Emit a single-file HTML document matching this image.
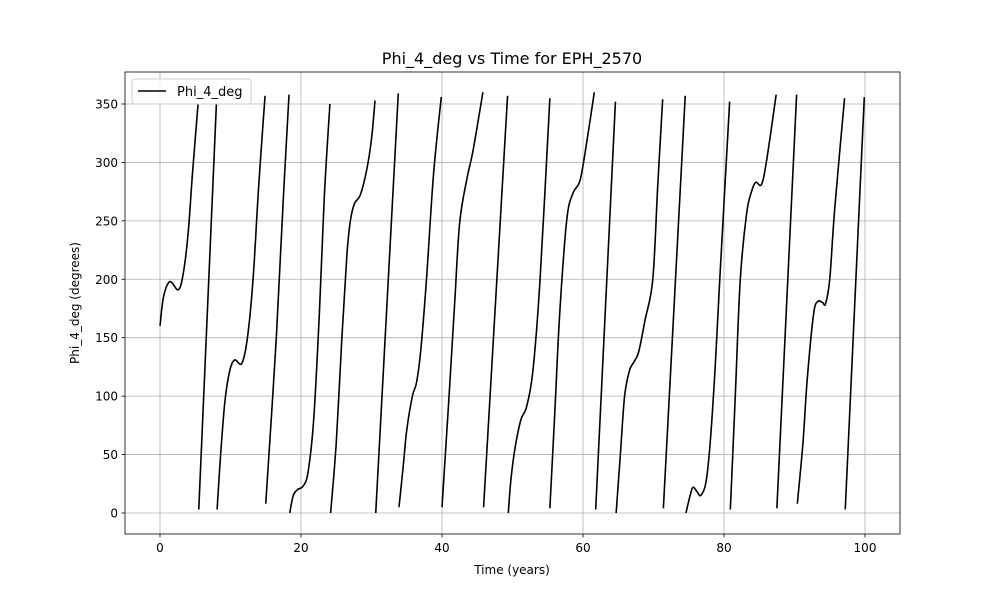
<!DOCTYPE html>
<html><head><meta charset="utf-8"><style>
body{margin:0;background:#fff;font-family:"Liberation Sans","DejaVu Sans",sans-serif}
svg text{font-family:"DejaVu Sans","Liberation Sans",sans-serif}
</style></head><body>
<svg id="c" width="1000" height="600" viewBox="0 0 1000 600">
<rect width="1000" height="600" fill="#fff"/>
<g id="grid"></g>
<g id="lines"></g>
<rect x="125" y="72" width="775" height="462" fill="none" stroke="#000" stroke-width="0.8"/>
<g id="ticks"></g>
<text x="512" y="64" text-anchor="middle" font-size="16">Phi_4_deg vs Time for EPH_2570</text>
<text x="512" y="574" text-anchor="middle" font-size="12">Time (years)</text>
<text transform="translate(79,303) rotate(-90)" text-anchor="middle" font-size="12">Phi_4_deg (degrees)</text>
<g>
<rect x="132" y="79" width="119" height="25" rx="3" fill="#fff" fill-opacity="0.8" stroke="#ccc"/>
<line x1="138" y1="91" x2="166" y2="91" stroke="#000" stroke-width="1.6"/>
<text x="177" y="96" font-size="13">Phi_4_deg</text>
</g>
</svg>
<script>
const xTicks=[0,20,40,60,80,100];
const yTicks=[0,50,100,150,200,250,300,350];
const segments=[
[[0,160],[0.5,185],[1.4,198],[2.6,191],[3.3,205],[4,240],[4.6,290],[5.4,350]],
[[5.5,3],[8.0,350]],
[[8.1,3],[8.6,50],[9.2,95],[9.9,122],[10.6,131],[11.6,128],[12.4,150],[13.2,200],[14,280],[14.9,357]],
[[15,8],[16.5,150],[17.5,270],[18.3,358]],
[[18.4,0],[18.9,15],[19.5,20],[20.3,23],[21,35],[21.8,80],[22.6,170],[23.3,270],[24.1,350]],
[[24.2,0],[25,60],[25.8,150],[26.5,220],[27,250],[27.6,265],[28.4,272],[29.3,293],[30,320],[30.5,353]],
[[30.6,0],[33.8,359]],
[[33.9,5],[34.5,40],[35,71],[35.8,100],[36.4,112],[37,140],[37.8,200],[38.8,290],[39.9,356]],
[[40,5],[41,100],[41.8,180],[42.5,248],[43.5,285],[44.4,310],[45.8,360]],
[[45.9,5],[49.3,357]],
[[49.4,0],[49.8,30],[50.4,57],[51.2,80],[52,91],[52.9,122],[53.9,199],[55.3,355]],
[[55.3,4],[56,86],[56.7,171],[57.7,251],[58.6,274],[59.6,285],[60.6,320],[61.6,360]],
[[61.8,3],[64.6,352]],
[[64.7,0],[65.3,50],[65.9,100],[66.6,122],[67.2,129],[67.9,138],[68.8,165],[69.9,200],[70.6,280],[71.3,354]],
[[71.4,4],[74.5,357]],
[[74.6,0],[75.2,15],[75.6,22],[76.2,18],[76.7,15],[77.4,25],[78,57],[78.7,120],[79.4,200],[80.8,352]],
[[80.9,3],[81.6,100],[82.3,199],[83.2,256],[83.9,275],[84.5,283],[85.3,281],[86,300],[87.4,358]],
[[87.5,4],[90.3,358]],
[[90.4,8],[91.2,60],[91.8,114],[92.7,170],[93.3,181],[94,180],[94.4,179],[95,200],[95.7,260],[97.1,355]],
[[97.2,3],[99.9,356]]
];
const NS="http://www.w3.org/2000/svg";
const X=t=>160+t*7.05, Y=v=>513-v*1.1686;
const grid=document.getElementById('grid'),ticks=document.getElementById('ticks'),lines=document.getElementById('lines');
function mk(tag,attrs,parent){const e=document.createElementNS(NS,tag);for(const k in attrs)e.setAttribute(k,attrs[k]);parent.appendChild(e);return e;}
xTicks.forEach(t=>{
 const g=mk('line',{x1:X(t),x2:X(t),y1:72,y2:534,stroke:'#b0b0b0','stroke-width':0.8},grid);
 
 
 mk('line',{x1:X(t),x2:X(t),y1:534,y2:537.5,stroke:'#000','stroke-width':0.8},ticks);
 const l=mk('text',{x:X(t),y:552,'text-anchor':'middle','font-size':12},ticks);
 l.textContent=t;
 
 
});
yTicks.forEach(v=>{
 const g=mk('line',{x1:125,x2:900,y1:Y(v),y2:Y(v),stroke:'#b0b0b0','stroke-width':0.8},grid);
 
 
 mk('line',{x1:121.5,x2:125,y1:Y(v),y2:Y(v),stroke:'#000','stroke-width':0.8},ticks);
 const l=mk('text',{x:118,y:Y(v)+4.5,'text-anchor':'end','font-size':12},ticks);
 l.textContent=v;
 
 
});
segments.forEach(seg=>{
 const p=seg.map(([t,v])=>[X(t),Y(v)]);
 let d='M'+p[0][0]+','+p[0][1];
 for(let i=0;i<p.length-1;i++){
  const p0=p[Math.max(0,i-1)],p1=p[i],p2=p[i+1],p3=p[Math.min(p.length-1,i+2)];
  const c1=[p1[0]+(p2[0]-p0[0])/6,p1[1]+(p2[1]-p0[1])/6];
  const c2=[p2[0]-(p3[0]-p1[0])/6,p2[1]-(p3[1]-p1[1])/6];
  d+=' C'+c1+' '+c2+' '+p2;
 }
 const e=mk('path',{d:d,fill:'none',stroke:'#000','stroke-width':1.6},lines);
 
 
});
</script>
</body></html>
